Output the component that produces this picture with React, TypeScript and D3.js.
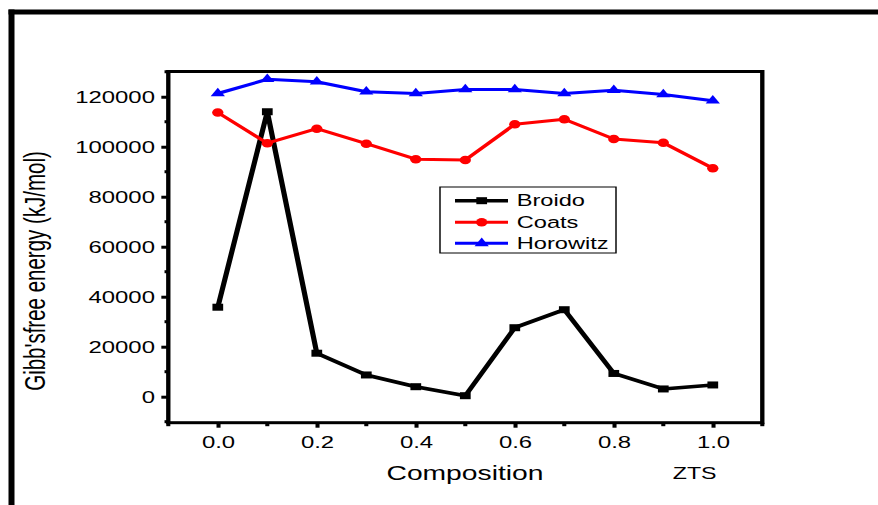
import React, { useEffect, useRef } from "react";
import * as d3 from "d3";

// chart data
const composition = [0, 0.1, 0.2, 0.3, 0.4, 0.5, 0.6, 0.7, 0.8, 0.9, 1.0];
const broido = [35800, 114000, 17400, 8700, 4000, 400, 27600, 34800, 9300, 3100, 4700];
const coats = [113700, 101400, 107200, 101200, 95000, 94700, 109000, 111000, 103100, 101600, 91400];
const horowitz = [121300, 127000, 126000, 122000, 121300, 122900, 122900, 121300, 122600, 120900, 118400];
const seriesNames = ["Broido", "Coats", "Horowitz"];
const seriesColors = ["#000000", "#ff0000", "#0000ff"];
const yTickValues = [0, 20000, 40000, 60000, 80000, 100000, 120000];
const yMinorValues = [-10000, 10000, 30000, 50000, 70000, 90000, 110000, 130000];
const xTickValues = [0, 0.2, 0.4, 0.6, 0.8, 1.0];
const xMinorValues = [-0.1, 0.1, 0.3, 0.5, 0.7, 0.9, 1.1];

// the source image is stretched horizontally; draw in a squeezed space and scale x back
const SX = 1.45;
const FONT = "'Liberation Sans', Arial, Helvetica, sans-serif";

const App = () => {
  const svgRef = useRef<SVGSVGElement>(null);

  useEffect(() => {
    const svg = d3.select(svgRef.current);
    svg.selectAll("*").remove();

    const root = svg.append("g").attr("transform", `scale(${SX},1)`);

    const left = 168.3 / SX;
    const right = 762.3 / SX;
    const top = 71.5;
    const bottom = 422.7;

    const xScale = d3.scaleLinear().domain([-0.1, 1.1]).range([left, right]);
    const yScale = d3.scaleLinear().domain([-10400, 130100]).range([bottom, top]);

    // outer frame (top and left edges only)
    root
      .append("line")
      .attr("x1", 8.5 / SX)
      .attr("x2", 880 / SX)
      .attr("y1", 12)
      .attr("y2", 12)
      .attr("stroke", "#000")
      .attr("stroke-width", 5);
    root
      .append("line")
      .attr("x1", 11.5 / SX)
      .attr("x2", 11.5 / SX)
      .attr("y1", 9.5)
      .attr("y2", 510)
      .attr("stroke", "#000")
      .attr("stroke-width", 6 / SX);

    // y axis
    const yAxis = root
      .append("g")
      .attr("transform", `translate(${left},0)`)
      .call(
        d3
          .axisLeft(yScale)
          .tickValues(yTickValues)
          .tickSize(4.8)
          .tickPadding(4.4)
          .tickFormat(d3.format("d"))
      );
    yAxis.select(".domain").remove();
    yAxis.selectAll("line").attr("stroke", "#000").attr("stroke-width", 3);
    yAxis
      .selectAll("text")
      .attr("font-family", FONT)
      .attr("font-size", 16.5)
      .attr("fill", "#000")
      .attr("dy", "0.36em");

    root
      .append("g")
      .selectAll("line")
      .data(yMinorValues)
      .join("line")
      .attr("x1", left - 2.6)
      .attr("x2", left)
      .attr("y1", (d) => yScale(d))
      .attr("y2", (d) => yScale(d))
      .attr("stroke", "#000")
      .attr("stroke-width", 3);

    // x axis
    const xAxis = root
      .append("g")
      .attr("transform", `translate(0,${bottom})`)
      .call(d3.axisBottom(xScale).tickValues(xTickValues).tickSize(5).tickFormat(d3.format(".1f")));
    xAxis.select(".domain").remove();
    xAxis.selectAll("line").attr("stroke", "#000").attr("stroke-width", 2.8);
    xAxis
      .selectAll("text")
      .attr("font-family", FONT)
      .attr("font-size", 16.5)
      .attr("fill", "#000")
      .attr("y", 25)
      .attr("dy", null);

    root
      .append("g")
      .selectAll("line")
      .data(xMinorValues)
      .join("line")
      .attr("x1", (d) => xScale(d))
      .attr("x2", (d) => xScale(d))
      .attr("y1", bottom)
      .attr("y2", bottom + 3.5)
      .attr("stroke", "#000")
      .attr("stroke-width", 2.8);

    // plot box
    root
      .append("rect")
      .attr("x", left)
      .attr("y", top)
      .attr("width", right - left)
      .attr("height", bottom - top)
      .attr("fill", "none")
      .attr("stroke", "#000")
      .attr("stroke-width", 3);

    // axis titles
    root
      .append("text")
      .attr("x", 465 / SX)
      .attr("y", 480)
      .attr("text-anchor", "middle")
      .attr("font-family", FONT)
      .attr("font-size", 19.5)
      .text("Composition");
    root
      .append("text")
      .attr("x", 694.7 / SX)
      .attr("y", 479)
      .attr("text-anchor", "middle")
      .attr("font-family", FONT)
      .attr("font-size", 16)
      .text("ZTS");
    root
      .append("text")
      .attr("transform", `translate(${45 / SX},271) rotate(-90)`)
      .attr("text-anchor", "middle")
      .attr("font-family", FONT)
      .attr("font-size", 20.5)
      .text("Gibb'sfree energy (kJ/mol)");

    const allSeries = [broido, coats, horowitz];
    const lineWidths = [3.6, 3, 3];
    const line = d3
      .line<number>()
      .x((d, i) => xScale(composition[i]))
      .y((d) => yScale(d));

    const drawMarker = (g: any, kind: number, x: number, y: number, color: string) => {
      if (kind === 0) {
        g.append("rect")
          .attr("x", x - 3.7)
          .attr("y", y - 3.5)
          .attr("width", 7.4)
          .attr("height", 7)
          .attr("fill", color);
      } else if (kind === 1) {
        g.append("ellipse")
          .attr("cx", x)
          .attr("cy", y)
          .attr("rx", 3.9)
          .attr("ry", 4.3)
          .attr("fill", color);
      } else {
        g.append("path")
          .attr("d", d3.symbol(d3.symbolTriangle, 42)())
          .attr("transform", `translate(${x},${y})`)
          .attr("fill", color);
      }
    };

    allSeries.forEach((values, s) => {
      root
        .append("path")
        .datum(values)
        .attr("d", line)
        .attr("fill", "none")
        .attr("stroke", seriesColors[s])
        .attr("stroke-width", lineWidths[s])
        .attr("stroke-linejoin", "round");
      const mg = root.append("g");
      values.forEach((v, i) => drawMarker(mg, s, xScale(composition[i]), yScale(v), seriesColors[s]));
    });

    // legend
    const lg = root.append("g");
    lg.append("rect")
      .attr("x", 440 / SX)
      .attr("y", 187)
      .attr("width", (616 - 440) / SX)
      .attr("height", 66)
      .attr("fill", "#fff")
      .attr("stroke", "#000")
      .attr("stroke-width", 1);
    const rows = [200.7, 222.3, 243.3];
    seriesNames.forEach((name, s) => {
      const y = rows[s];
      lg.append("line")
        .attr("x1", 455 / SX)
        .attr("x2", 508 / SX)
        .attr("y1", y)
        .attr("y2", y)
        .attr("stroke", seriesColors[s])
        .attr("stroke-width", lineWidths[s]);
      drawMarker(lg, s, 481.7 / SX, y, seriesColors[s]);
      lg.append("text")
        .attr("x", 516.7 / SX)
        .attr("y", y + 5.8)
        .attr("font-family", FONT)
        .attr("font-size", 16.3)
        .text(name);
    });
  }, []);

  return (
    <svg
      ref={svgRef}
      width={878}
      height={505}
      style={{ position: "absolute", left: 0, top: 0, background: "#fff" }}
    ></svg>
  );
};

export default App;
